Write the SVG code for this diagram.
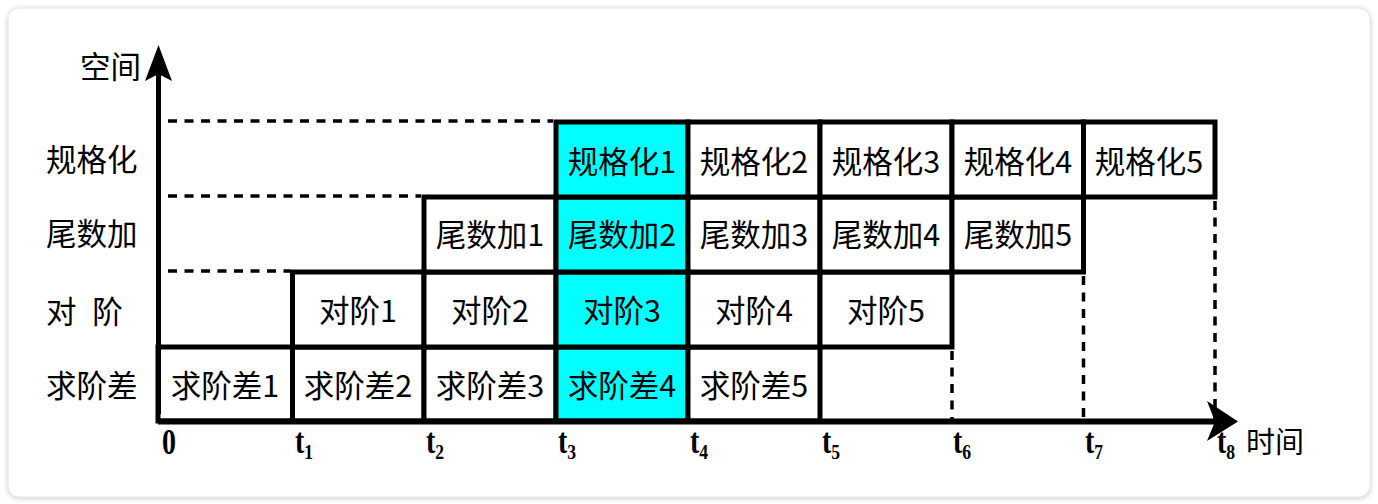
<svg xmlns="http://www.w3.org/2000/svg" width="1378" height="504" viewBox="0 0 1378 504">
<style>
.cell{fill:#fff;stroke:#000;stroke-width:5}
.hi{fill:#00ffff}
.ct{font-family:"Noto Sans CJK SC",sans-serif;font-size:30.5px;fill:#000;text-anchor:middle}
.lb{font-family:"Noto Sans CJK SC",sans-serif;font-size:30.5px;fill:#000}
.ax{stroke:#000;stroke-width:5;fill:none}
.dash{stroke:#000;stroke-width:3.5;stroke-dasharray:9 7.5;fill:none}
.tl{font-family:"Liberation Serif",serif;font-weight:bold;font-size:35px;fill:#000}
.sub{font-size:22px}
</style>
<defs>
<filter id="sh" x="-5%" y="-5%" width="110%" height="110%">
<feDropShadow dx="0" dy="1" stdDeviation="2.5" flood-color="#000" flood-opacity="0.22"/>
</filter>
</defs>
<rect x="0" y="0" width="1378" height="504" fill="#fff"/>
<rect x="8" y="8" width="1362" height="489" rx="11" fill="#fff" stroke="#e4e4e4" stroke-width="1" filter="url(#sh)"/>

<g id="labels">
<text class="lb" x="80" y="78">空间</text>
<text class="lb" x="46" y="171">规格化</text>
<text class="lb" x="46" y="245">尾数加</text>
<text class="lb" x="46" y="323" word-spacing="9">对 阶</text>
<text class="lb" x="46" y="397">求阶差</text>
<text class="lb" x="1246" y="453" style="font-size:29px">时间</text>
</g>

<g id="connectors">
<line class="dash" x1="168" y1="121" x2="553" y2="121"/>
<line class="dash" x1="168" y1="196" x2="421" y2="196"/>
<line class="dash" x1="168" y1="271" x2="290" y2="271"/>
<line class="dash" x1="952" y1="351" x2="952" y2="419"/>
<line class="dash" x1="1083.5" y1="276" x2="1083.5" y2="419"/>
<line class="dash" x1="1215" y1="201" x2="1215" y2="419"/>
</g>

<g id="row4">
<g id="n-qjc1"><rect class="cell" x="158" y="347" width="134.5" height="74"/><text class="ct" x="225" y="397">求阶差1</text></g>
<g id="n-qjc2"><rect class="cell" x="292.5" y="347" width="131.5" height="74"/><text class="ct" x="358" y="397">求阶差2</text></g>
<g id="n-qjc3"><rect class="cell" x="424" y="347" width="132" height="74"/><text class="ct" x="490" y="397">求阶差3</text></g>
<g id="n-qjc4"><rect class="cell hi" x="556" y="347" width="132" height="74"/><text class="ct" x="622" y="397">求阶差4</text></g>
<g id="n-qjc5"><rect class="cell" x="688" y="347" width="132" height="74"/><text class="ct" x="754" y="397">求阶差5</text></g>
</g>
<g id="row3">
<g id="n-dj1"><rect class="cell" x="292.5" y="272" width="131.5" height="75"/><text class="ct" x="358" y="322">对阶1</text></g>
<g id="n-dj2"><rect class="cell" x="424" y="272" width="132" height="75"/><text class="ct" x="490" y="322">对阶2</text></g>
<g id="n-dj3"><rect class="cell hi" x="556" y="272" width="132" height="75"/><text class="ct" x="622" y="322">对阶3</text></g>
<g id="n-dj4"><rect class="cell" x="688" y="272" width="132" height="75"/><text class="ct" x="754" y="322">对阶4</text></g>
<g id="n-dj5"><rect class="cell" x="820" y="272" width="132" height="75"/><text class="ct" x="886" y="322">对阶5</text></g>
</g>
<g id="row2">
<g id="n-wsj1"><rect class="cell" x="424" y="197" width="132" height="75"/><text class="ct" x="490" y="246">尾数加1</text></g>
<g id="n-wsj2"><rect class="cell hi" x="556" y="197" width="132" height="75"/><text class="ct" x="622" y="246">尾数加2</text></g>
<g id="n-wsj3"><rect class="cell" x="688" y="197" width="132" height="75"/><text class="ct" x="754" y="246">尾数加3</text></g>
<g id="n-wsj4"><rect class="cell" x="820" y="197" width="132" height="75"/><text class="ct" x="886" y="246">尾数加4</text></g>
<g id="n-wsj5"><rect class="cell" x="952" y="197" width="131.5" height="75"/><text class="ct" x="1018" y="246">尾数加5</text></g>
</g>
<g id="row1">
<g id="n-ggh1"><rect class="cell hi" x="556" y="122" width="132" height="75"/><text class="ct" x="622" y="173">规格化1</text></g>
<g id="n-ggh2"><rect class="cell" x="688" y="122" width="132" height="75"/><text class="ct" x="754" y="173">规格化2</text></g>
<g id="n-ggh3"><rect class="cell" x="820" y="122" width="132" height="75"/><text class="ct" x="886" y="173">规格化3</text></g>
<g id="n-ggh4"><rect class="cell" x="952" y="122" width="131.5" height="75"/><text class="ct" x="1018" y="173">规格化4</text></g>
<g id="n-ggh5"><rect class="cell" x="1083.5" y="122" width="131.5" height="75"/><text class="ct" x="1149" y="173">规格化5</text></g>
</g>

<g id="axes">
<line class="ax" x1="158.5" y1="414" x2="158.5" y2="70"/>
<path d="M158.5 45 L172 81 L158.5 74 L145 81 Z" fill="#000"/>
<line x1="158" y1="421.5" x2="1220" y2="421.5" stroke="#000" stroke-width="6"/>
<path d="M1238 421.5 L1207 441 L1215 421.5 L1207 401 Z" fill="#000"/>
</g>

<g id="ticks">
<text class="tl" transform="translate(162,454) scale(0.8,1)">0</text>
<text class="tl" transform="translate(295,453) scale(0.8,1)">t<tspan class="sub" dy="6">1</tspan></text>
<text class="tl" transform="translate(426,453) scale(0.8,1)">t<tspan class="sub" dy="6">2</tspan></text>
<text class="tl" transform="translate(558,453) scale(0.8,1)">t<tspan class="sub" dy="6">3</tspan></text>
<text class="tl" transform="translate(690,453) scale(0.8,1)">t<tspan class="sub" dy="6">4</tspan></text>
<text class="tl" transform="translate(822,453) scale(0.8,1)">t<tspan class="sub" dy="6">5</tspan></text>
<text class="tl" transform="translate(953,453) scale(0.8,1)">t<tspan class="sub" dy="6">6</tspan></text>
<text class="tl" transform="translate(1085,453) scale(0.8,1)">t<tspan class="sub" dy="6">7</tspan></text>
<text class="tl" transform="translate(1217,453) scale(0.8,1)">t<tspan class="sub" dy="6">8</tspan></text>
</g>
</svg>
